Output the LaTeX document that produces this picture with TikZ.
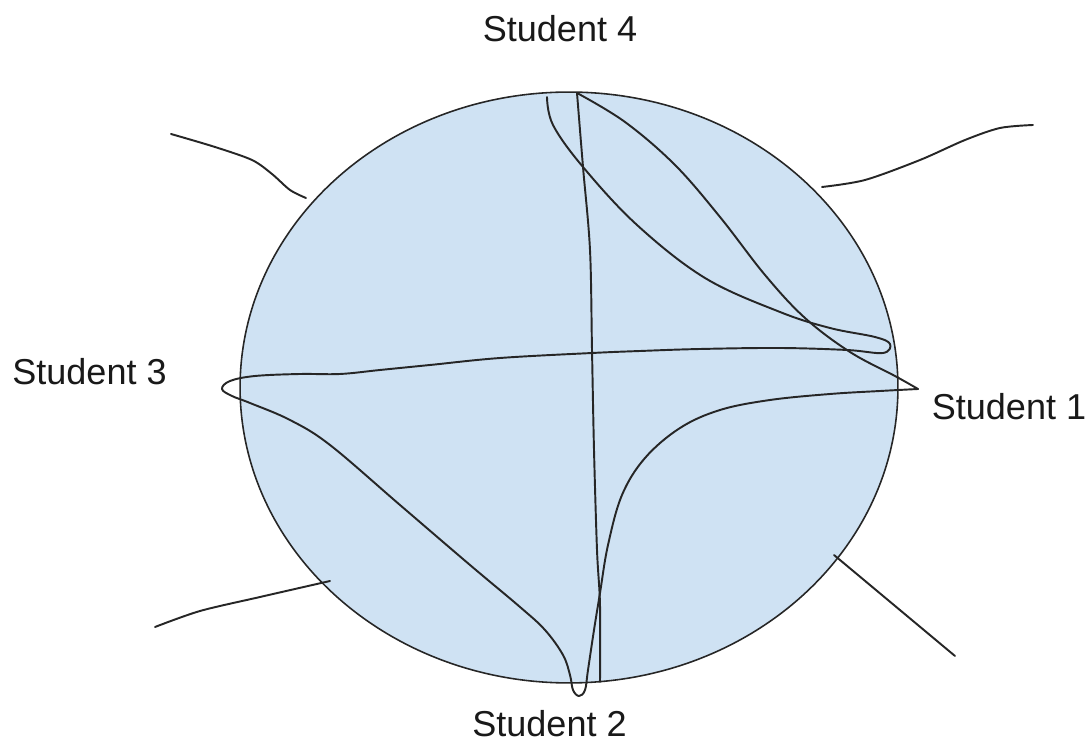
\documentclass[tikz,border=0pt]{standalone}
\usepackage{fontspec}
\setmainfont{Liberation Sans}
\begin{document}
\begin{tikzpicture}[x=0.02cm,y=-0.02cm,
  stroke/.style={line width=1.1pt, line cap=round, line join=round, black!85},
  label/.style={inner sep=0pt, font=\fontsize{20.5}{24}\selectfont, text=black!90}]
\useasboundingbox (0,0) rectangle (1092,742);
\definecolor{tablefill}{HTML}{CFE2F3}
% table
\draw[line width=0.9pt, black!85, fill=tablefill] (569,387.5) ellipse [x radius=6.58cm, y radius=5.91cm];
% labels
\node[label] (s4) at (560,29) {Student 4};
\node[label] (s3) at (89.5,372) {Student 3};
\node[label] (s1) at (1009,406.5) {Student 1};
\node[label] (s2) at (549.5,724) {Student 2};
% outside strokes
\draw[stroke] plot[smooth] coordinates {(171,134) (215,147) (252,160) (272,174) (290,190) (306,198)};
\draw[stroke] plot[smooth] coordinates {(822,187) (865,180) (920,160) (965,140) (1000,128) (1033,125)};
\draw[stroke] plot[smooth] coordinates {(155,627) (200,611) (260,597) (330,581)};
\draw[stroke] (834,555) -- (955,656);
% main freehand curve
\draw[stroke] plot[smooth, tension=0.6] coordinates {
 (547,97) (553,125) (583,167) (637,225) (705,278) (780,312) (830,328) (875,337) (890,344) (883,353) (847,350)
 (780,348) (700,349) (640,351) (592,353) (500,358) (430,365) (380,370) (340,374) (300,374) (255,376) (230,381) (222,389) (232,396) (250,403)
 (290,420) (330,445) (400,505) (470,565) (520,607) (545,630) (563,655) (570,675) (573,690) (579,696) (585,690) (588,670) (594,630) (600,593) (608,545) (622,495) (645,458) (680,428) (720,410) (770,400) (830,394) (880,391) (918,389)};
\draw[stroke] plot[smooth, tension=0.6] coordinates {
 (918,389) (895,376) (850,352) (805,318) (765,275) (720,217) (675,165) (625,122) (577,93)};
\draw[stroke] plot[smooth, tension=0.55] coordinates {
 (577,93) (583,167) (590,250) (592,350) (594,450) (597,550) (600,605) (600,682)};
\end{tikzpicture}
\end{document}
